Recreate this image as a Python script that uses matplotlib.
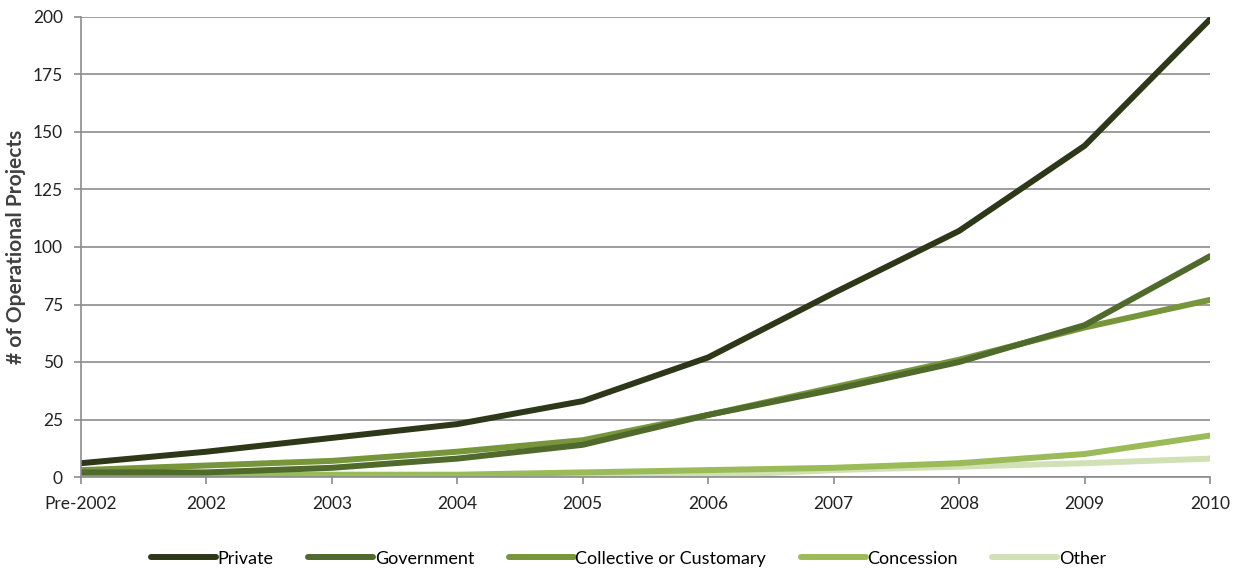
import matplotlib.pyplot as plt

years = ["Pre-2002", "2002", "2003", "2004", "2005", "2006", "2007", "2008", "2009", "2010"]
private = [6, 11, 17, 23, 33, 52, 80, 107, 144, 199]
government = [2, 2, 4, 8, 14, 27, 38, 50, 66, 96]
collective = [3, 5, 7, 11, 16, 27, 39, 51, 65, 77]
concession = [1, 1, 1, 1, 2, 3, 4, 6, 10, 18]
other = [0, 0, 0, 0.5, 0.5, 0.5, 3, 4.5, 6, 8]

series = [
    ("Private", private, "#2c3818"),
    ("Government", government, "#4f6a2b"),
    ("Collective or Customary", collective, "#77963b"),
    ("Concession", concession, "#9bbb59"),
    ("Other", other, "#d0e1b5"),
]

plt.rcParams['font.family'] = ['Lato', 'DejaVu Sans']

fig = plt.figure(figsize=(12.41, 5.71), dpi=100)
ax = fig.add_axes([81 / 1241, 1 - 477 / 571, (1210 - 81) / 1241, 460 / 571])

x = list(range(len(years)))
for name, vals, col in reversed(series):
    ax.plot(x, vals, color=col, lw=4.3, solid_capstyle='round', solid_joinstyle='round', label=name)

ax.set_xlim(0, len(years) - 1)
ax.set_ylim(0, 200)
ax.set_yticks(range(0, 201, 25))
ax.set_xticks(x)
ax.set_xticklabels(years)
ax.yaxis.grid(True, color="#8c8c8c", lw=1.2)
ax.set_axisbelow(True)
for s in ["top", "right"]:
    ax.spines[s].set_visible(False)
for s in ["left", "bottom"]:
    ax.spines[s].set_color("#8c8c8c")
    ax.spines[s].set_linewidth(1.2)
ax.tick_params(axis='both', colors="#8c8c8c", labelcolor="#222222", labelsize=12.5, length=5, width=1.2)
ax.tick_params(axis='x', pad=9)
ax.tick_params(axis='y', pad=8)
ax.set_ylabel("# of Operational Projects", fontsize=15, fontweight='bold', color="#404040", labelpad=5)

handles, labels = ax.get_legend_handles_labels()
ax.legend(handles[::-1], labels[::-1], loc='upper center', bbox_to_anchor=(0.485, -0.125), ncol=5,
          frameon=False, fontsize=13, handlelength=3.6, handletextpad=0.1, columnspacing=1.9)

fig.savefig("out.png", dpi=100)
